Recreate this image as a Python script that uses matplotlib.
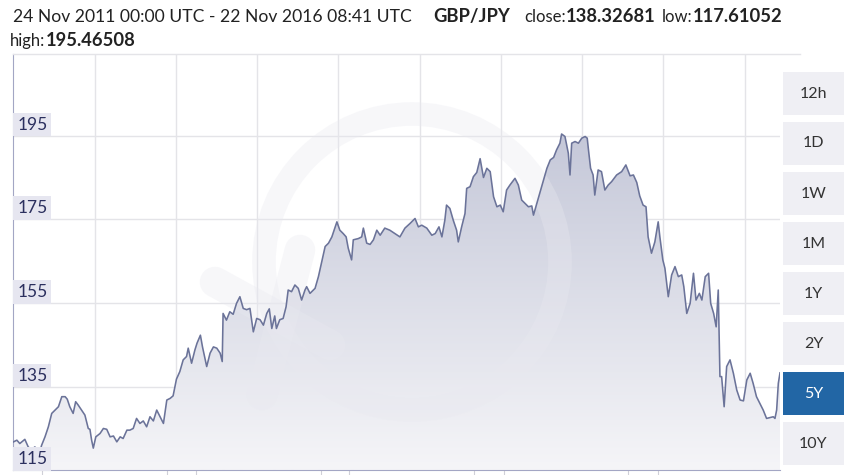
import numpy as np
import matplotlib.pyplot as plt
from matplotlib.colors import LinearSegmentedColormap
from matplotlib.patches import Polygon, Rectangle, Ellipse

# GBP/JPY, days since 24 Nov 2011
days = [0, 8, 15, 27, 35, 43, 51, 59, 67, 75, 83, 91, 99, 107, 115, 123, 128, 134,
        142, 148, 154, 162, 170, 178, 182, 186, 190, 196, 206, 214, 222, 230, 238,
        246, 254, 261, 270, 277, 285, 293, 301, 309, 317, 325, 333, 341, 349, 357,
        365, 373, 380, 388, 396, 404, 412, 416, 424, 432, 437, 445, 450, 460, 468,
        476, 484, 492, 497, 499, 507, 515, 523, 531, 539, 547, 555, 563, 571, 579,
        587, 595, 603, 609, 615, 622, 626, 634, 642, 649, 654, 662, 670, 678, 686,
        694, 698, 706, 718, 726, 734, 742, 750, 758, 766, 770, 777, 785, 792, 797,
        805, 809, 821, 829, 833, 841, 849, 857, 865, 873, 884, 896, 908, 920, 932,
        944, 956, 964, 972, 984, 996, 1004, 1013, 1020, 1027, 1031, 1039, 1047,
        1055, 1059, 1067, 1075, 1079, 1087, 1095, 1103, 1111, 1119, 1127, 1135,
        1143, 1151, 1159, 1166, 1174, 1182, 1194, 1202, 1210, 1218, 1226, 1234,
        1238, 1246, 1254, 1262, 1270, 1278, 1286, 1293, 1301, 1305, 1313, 1317,
        1321, 1325, 1329, 1337, 1345, 1353, 1361, 1366, 1369, 1374, 1380, 1384,
        1392, 1400, 1408, 1416, 1424, 1436, 1448, 1458, 1468, 1476, 1484, 1491,
        1499, 1506, 1511, 1519, 1527, 1535, 1539, 1546, 1551, 1559, 1567, 1575,
        1583, 1591, 1596, 1603, 1611, 1619, 1625, 1633, 1639, 1647, 1655, 1660,
        1667, 1673, 1678, 1682, 1686, 1692, 1698, 1706, 1714, 1722, 1730, 1738,
        1746, 1754, 1761, 1769, 1777, 1785, 1793, 1801, 1809, 1813, 1817, 1821, 1825]
rate = [121.8, 122.2, 121.4, 122.4, 120.6, 119.9, 120.6, 118.2, 121.0, 123.0, 125.4,
        128.6, 129.4, 130.2, 132.6, 132.6, 132.0, 130.2, 128.6, 131.4, 130.6, 129.4,
        128.2, 125.0, 124.8, 122.2, 120.3, 123.0, 123.8, 125.0, 124.8, 123.0, 123.2,
        121.8, 123.0, 122.6, 124.6, 124.6, 125.0, 127.4, 126.2, 126.8, 125.4, 127.8,
        126.8, 129.4, 127.8, 126.2, 131.8, 132.2, 132.8, 136.8, 138.6, 141.4, 142.2,
        144.2, 140.6, 143.8, 145.4, 147.3, 144.5, 139.8, 143.0, 144.5, 144.2, 143.0,
        141.0, 152.5, 150.9, 152.9, 152.3, 154.9, 156.5, 153.7, 153.4, 153.7, 148.1,
        151.3, 151.0, 149.7, 152.5, 153.6, 148.9, 151.9, 148.9, 151.0, 151.3, 154.1,
        158.1, 157.7, 159.3, 158.5, 155.7, 158.1, 158.9, 157.3, 158.5, 161.3, 164.9,
        168.5, 169.3, 170.8, 173.2, 174.4, 172.4, 171.6, 170.8, 168.1, 165.3, 170.1,
        170.4, 170.8, 172.9, 169.3, 169.0, 170.1, 172.4, 171.2, 172.9, 172.4, 171.6,
        170.8, 172.9, 174.0, 175.2, 173.2, 173.6, 172.9, 171.2, 171.6, 173.2, 170.8,
        174.8, 178.4, 177.6, 174.8, 172.4, 169.6, 173.2, 176.4, 182.4, 182.8, 185.2,
        186.2, 189.5, 185.0, 187.2, 186.4, 180.4, 178.0, 178.4, 176.8, 182.0, 183.2,
        184.8, 183.2, 179.6, 178.8, 178.0, 178.2, 176.0, 178.8, 181.6, 184.4, 187.2,
        189.2, 189.8, 191.6, 193.2, 195.4, 194.8, 192.8, 190.8, 185.6, 193.2, 193.6,
        193.2, 194.4, 194.8, 194.4, 191.6, 187.2, 185.6, 180.8, 186.8, 186.4, 182.0,
        183.2, 184.0, 185.6, 186.4, 188.0, 185.4, 185.6, 183.8, 180.6, 178.4, 178.0,
        170.8, 166.9, 169.6, 174.4, 170.8, 165.3, 163.3, 156.5, 161.7, 163.7, 161.3,
        161.7, 158.9, 152.5, 154.9, 162.1, 155.7, 157.3, 155.7, 161.3, 162.1, 154.9,
        152.5, 149.3, 158.1, 137.4, 137.4, 130.2, 139.8, 141.4, 138.2, 134.2, 131.8,
        131.6, 136.6, 138.2, 135.8, 132.6, 131.0, 129.4, 127.4, 127.6, 127.8, 127.4,
        129.4, 135.8, 138.3]

y_ticks = [115, 135, 155, 175, 195]
grid_days = [194, 387, 580, 773, 968, 1161, 1354, 1546, 1741]
tick_days = [68, 365, 435, 732, 800, 1096, 1168, 1463, 1534]
ranges = ['12h', '1D', '1W', '1M', '1Y', '2Y', '5Y', '10Y']
selected = '5Y'

W, H = 853, 475
plt.rcParams['font.family'] = ['Lato', 'DejaVu Sans']

fig = plt.figure(figsize=(W / 100, H / 100), dpi=100)


def fx(x):
    return x / W


def fy(y):
    return 1 - y / H


left, right, top, bottom = 13.5, 780, 54, 470.3
pw, ph = right - left, bottom - top
ax = fig.add_axes([fx(left), fy(bottom), pw / W, ph / H])
ax.set_xlim(0, 1825)
ax.set_ylim(115, 115 + ph / 4.183)


def ax_xy(x, y):
    # figure pixels -> axes fraction
    return (x - left) / pw, 1 - (y - top) / ph


# grid
for d in grid_days:
    ax.axvline(d, color='#e4e4e8', lw=1, zorder=0)
for v in y_ticks[1:]:
    ax.axhline(v, color='#e4e4e8', lw=1, zorder=0)

# gradient fill under the line
cmap = LinearSegmentedColormap.from_list('fill', ['#f5f5f8', '#c4c7d8'])
grad = np.linspace(0, 1, 256).reshape(-1, 1)
im = ax.imshow(grad, extent=[0, 1825, 115, 197], origin='lower', aspect='auto',
               cmap=cmap, zorder=1)
poly = Polygon(np.column_stack([[days[0]] + days + [days[-1]], [115] + rate + [115]]),
               closed=True, facecolor='none', edgecolor='none', transform=ax.transData)
ax.add_patch(poly)
im.set_clip_path(poly)

# faint watermark logo
wm_col, wm_a = '#e9e9f0', 0.35
cx, cy = ax_xy(412, 262)
ax.add_patch(Ellipse((cx, cy), 2 * 148 / pw, 2 * 148 / ph, fill=False, lw=17,
                     edgecolor=wm_col, alpha=wm_a, zorder=2, transform=ax.transAxes))
for (x0, y0), (x1, y1) in [((215, 282), (330, 345)), ((300, 250), (262, 395))]:
    a, b = ax_xy(x0, y0)
    c, d = ax_xy(x1, y1)
    ax.plot([a, c], [b, d], lw=22, solid_capstyle='round', color=wm_col, alpha=wm_a,
            zorder=2, transform=ax.transAxes)

ax.plot(days, rate, color='#6b7399', lw=1.15, zorder=3)

# spines
for s in ['top', 'right']:
    ax.spines[s].set_visible(False)
ax.spines['left'].set_color('#a3a6c4')
ax.spines['bottom'].set_color('#a3a6c4')
fig.add_artist(plt.Line2D([fx(left), fx(800)], [fy(top), fy(top)], color='#e4e4e8', lw=1))

ax.set_xticks(tick_days)
ax.set_xticklabels([])
ax.tick_params(axis='x', length=5, color='#d0d0d8', direction='out')
ax.set_yticks([])

# y labels inside the plot
for v in y_ticks:
    ax.text(9, v + 0.75, str(v), fontsize=12.5, color='#2b2f5e',
            ha='left', va='bottom', zorder=5,
            bbox=dict(boxstyle='square,pad=0.22', fc='#e6e6f0', ec='none'))

# header: bold values start where they do in the original,
# each plain label sits just left of its value
fig.text(fx(13), fy(22), '24 Nov 2011 00:00 UTC - 22 Nov 2016 08:41 UTC',
         fontsize=12.6, color='#222222', va='baseline')
heads = [('GBP/JPY', '', 433, 22), ('138.32681', 'close:', 566, 22),
         ('117.61052', 'low:', 693, 22), ('195.46508', 'high:', 46, 46)]
for val, lab, x, y in heads:
    fig.text(fx(x), fy(y), val, fontsize=13.2, color='#222222', fontweight='bold',
             va='baseline')
    if lab:
        fig.text(fx(x - 0.5), fy(y), lab, fontsize=12.0, color='#222222',
                 ha='right', va='baseline')

# range buttons
for i, r in enumerate(ranges):
    y0 = 72 + 50 * i
    on = r == selected
    fig.add_artist(Rectangle((fx(783), fy(y0 + 43)), fx(61), 43 / H,
                             transform=fig.transFigure,
                             fc='#2266a5' if on else '#efeff4', ec='none'))
    fig.text(fx(813.5), fy(y0 + 21.5), r, fontsize=11.5, ha='center', va='center',
             color='white' if on else '#333333')

fig.savefig('out.png', dpi=100)
